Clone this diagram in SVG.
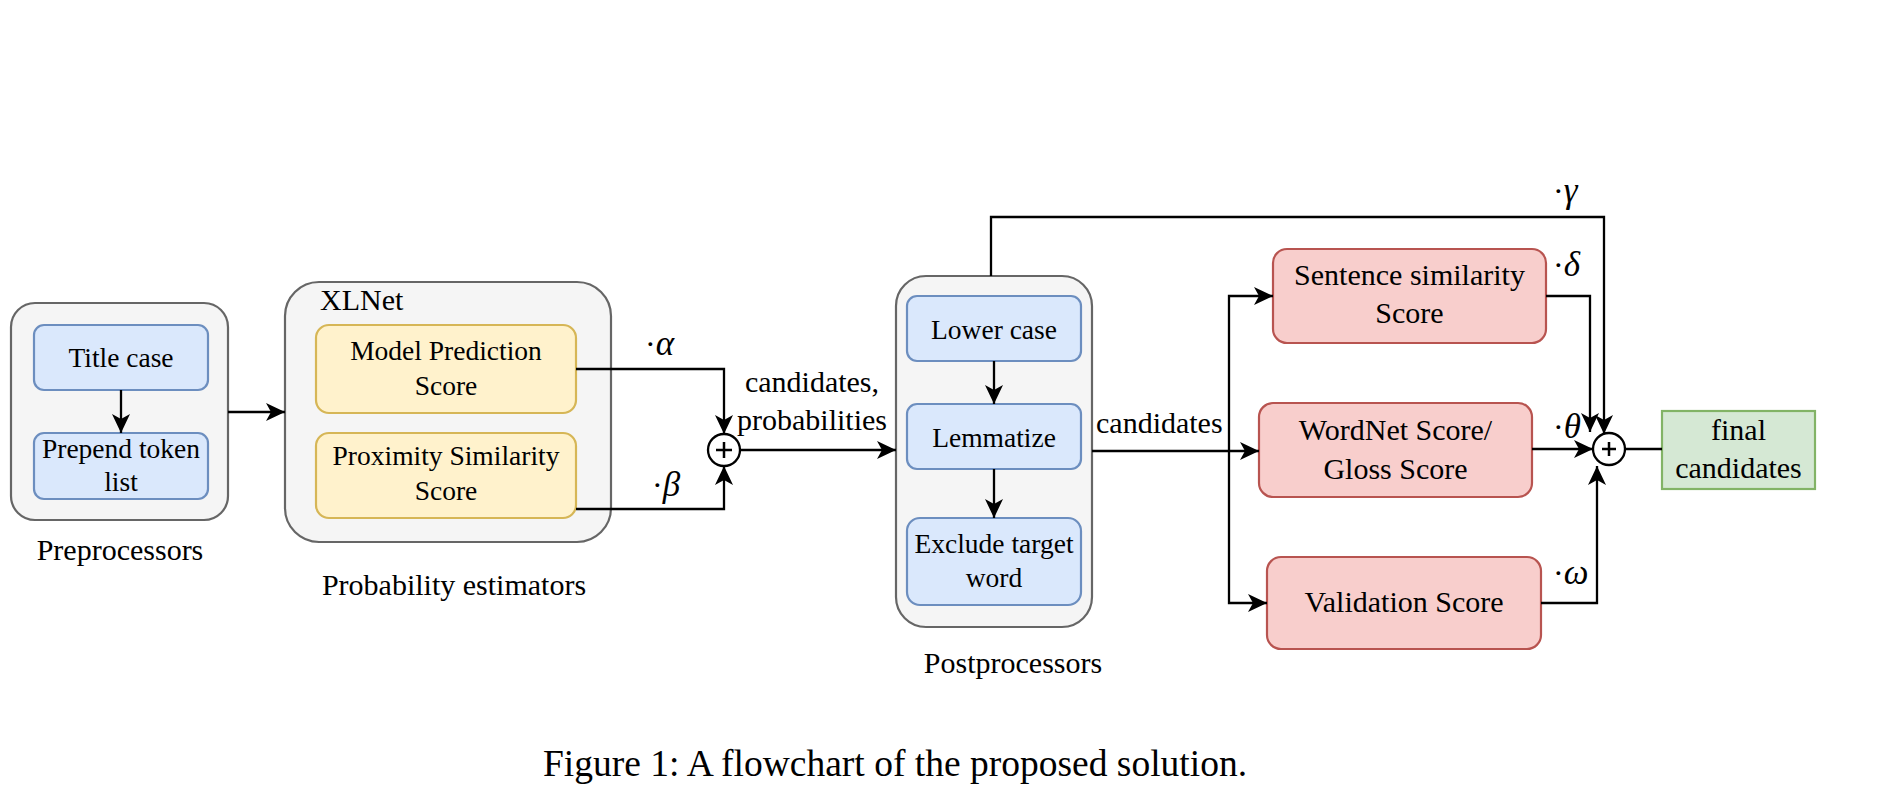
<svg xmlns="http://www.w3.org/2000/svg" width="1902" height="812" viewBox="0 0 1902 812">
<style>
text{font-family:"Liberation Serif","Times New Roman",serif;fill:#000}
.n{font-size:27.5px;text-anchor:middle}
.r{font-size:30px;text-anchor:middle}
.lbl{font-size:30px}
.c{font-size:30px;text-anchor:middle}
.g{font-size:32px}
.g tspan{font-style:italic;font-size:35px}
.cont{fill:#f5f5f5;stroke:#666666;stroke-width:2.2}
.blue{fill:#dae8fc;stroke:#6c8ebf;stroke-width:2.2}
.yel{fill:#fff2cc;stroke:#d6b656;stroke-width:2.2}
.red{fill:#f8cecc;stroke:#b85450;stroke-width:2.2}
.grn{fill:#d5e8d4;stroke:#82b366;stroke-width:2.2}
.e{fill:none;stroke:#000;stroke-width:2.3}
.a{marker-end:url(#arr)}
.sum{fill:#fff;stroke:#000;stroke-width:2.3}
</style>
<defs>
<marker id="arr" markerUnits="userSpaceOnUse" markerWidth="20" markerHeight="20" refX="19" refY="9" orient="auto" viewBox="0 0 20 18">
<path d="M0,0 L19,9 L0,18 L5,9 Z" fill="#000"/>
</marker>
</defs>
<rect width="1902" height="812" fill="#fff"/>

<g id="preprocessors">
<rect class="cont" x="11" y="303" width="217" height="217" rx="24"/>
<text class="c" x="120" y="560">Preprocessors</text>
</g>
<g id="title-case">
<rect class="blue" x="34" y="325" width="174" height="65" rx="10"/>
<text class="n" x="121" y="367">Title case</text>
</g>
<g id="prepend-token-list">
<rect class="blue" x="34" y="433" width="174" height="66" rx="10"/>
<text class="n" x="121" y="458">Prepend token</text>
<text class="n" x="121" y="491">list</text>
</g>

<g id="xlnet">
<rect class="cont" x="285" y="282" width="326" height="260" rx="34"/>
<text class="lbl" x="320" y="310">XLNet</text>
<text class="c" x="454" y="595">Probability estimators</text>
</g>
<g id="model-prediction">
<rect class="yel" x="316" y="325" width="260" height="88" rx="13"/>
<text class="n" x="446" y="360">Model Prediction</text>
<text class="n" x="446" y="395">Score</text>
</g>
<g id="proximity-similarity">
<rect class="yel" x="316" y="433" width="260" height="85" rx="13"/>
<text class="n" x="446" y="465">Proximity Similarity</text>
<text class="n" x="446" y="500">Score</text>
</g>

<g id="sum1">
<circle class="sum" cx="724" cy="450" r="16"/>
<path d="M716,450 H732 M724,442 V458" stroke="#000" stroke-width="2.5"/>
</g>

<g id="postprocessors">
<rect class="cont" x="896" y="276" width="196" height="351" rx="30"/>
<text class="c" x="1013" y="673">Postprocessors</text>
</g>
<g id="lower-case">
<rect class="blue" x="907" y="296" width="174" height="65" rx="10"/>
<text class="n" x="994" y="339">Lower case</text>
</g>
<g id="lemmatize">
<rect class="blue" x="907" y="404" width="174" height="65" rx="10"/>
<text class="n" x="994" y="447">Lemmatize</text>
</g>
<g id="exclude-target-word">
<rect class="blue" x="907" y="518" width="174" height="87" rx="13"/>
<text class="n" x="994" y="553">Exclude target</text>
<text class="n" x="994" y="587">word</text>
</g>

<g id="sentence-similarity">
<rect class="red" x="1273" y="249" width="273" height="94" rx="14"/>
<text class="r" x="1409.5" y="285">Sentence similarity</text>
<text class="r" x="1409.5" y="323">Score</text>
</g>
<g id="wordnet-score">
<rect class="red" x="1259" y="403" width="273" height="94" rx="14"/>
<text class="r" x="1395.5" y="440">WordNet Score/</text>
<text class="r" x="1395.5" y="479">Gloss Score</text>
</g>
<g id="validation-score">
<rect class="red" x="1267" y="557" width="274" height="92" rx="14"/>
<text class="r" x="1404" y="612">Validation Score</text>
</g>

<g id="sum2">
<circle class="sum" cx="1609" cy="449" r="16"/>
<path d="M1602,449 H1616 M1609,442 V456" stroke="#000" stroke-width="2.5"/>
</g>

<g id="final-candidates">
<rect class="grn" x="1662" y="411" width="153" height="78"/>
<text class="r" x="1738.5" y="440">final</text>
<text class="r" x="1738.5" y="478">candidates</text>
</g>

<g id="connectors">
<path class="e a" d="M121,390 V433"/>
<path class="e a" d="M228,412 H285"/>
<path class="e a" d="M576,369 H724 V434"/>
<path class="e a" d="M576,509 H724 V466"/>
<path class="e a" d="M740,450 H896"/>
<path class="e a" d="M994,361 V404"/>
<path class="e a" d="M994,469 V518"/>
<path class="e a" d="M991,276 V217 H1604 V434"/>
<path class="e a" d="M1092,451 H1259"/>
<path class="e a" d="M1229,451 V296 H1273"/>
<path class="e a" d="M1229,451 V603 H1267"/>
<path class="e a" d="M1546,296 H1590 V432"/>
<path class="e a" d="M1532,449 H1593"/>
<path class="e a" d="M1541,603 H1597 V466"/>
<path class="e" d="M1625,449 H1662"/>
<text class="g" x="645" y="355">·<tspan>α</tspan></text>
<text class="g" x="652" y="496">·<tspan>β</tspan></text>
<text class="c" x="812" y="392">candidates,</text>
<text class="c" x="812" y="430">probabilities</text>
<text class="lbl" x="1096" y="433">candidates</text>
<text class="g" x="1553" y="202">·<tspan>γ</tspan></text>
<text class="g" x="1553" y="276">·<tspan>δ</tspan></text>
<text class="g" x="1553" y="438">·<tspan>θ</tspan></text>
<text class="g" x="1553" y="584">·<tspan>ω</tspan></text>
</g>

<text x="895" y="776" style="font-size:37.5px;text-anchor:middle">Figure 1: A flowchart of the proposed solution.</text>
</svg>
